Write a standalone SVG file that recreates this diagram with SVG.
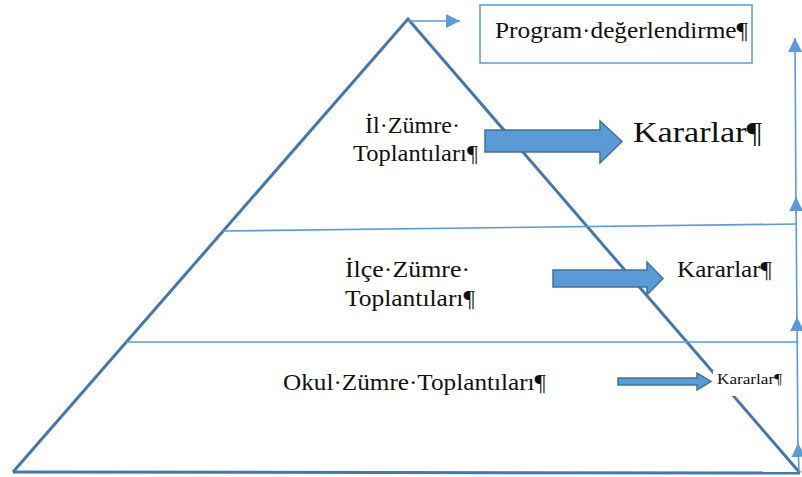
<svg xmlns="http://www.w3.org/2000/svg" width="802" height="477" viewBox="0 0 802 477">
<defs>
<style>
.t{font-family:"Liberation Serif","Times New Roman",serif;fill:#111}
.edge{stroke:#4477AA;stroke-width:3;fill:none}
.hl{stroke:#5B9BD5;stroke-width:1.6;fill:none}
.up{stroke:#5B9BD5;stroke-width:1.6;fill:none;marker-end:url(#ah)}
.blk{fill:#5B9BD5;stroke:#41719C;stroke-width:1.5}
</style>
<marker id="ah" markerWidth="14" markerHeight="15" refX="14" refY="7" orient="auto" markerUnits="userSpaceOnUse">
<path d="M0,0 L14,7 L0,14 Z" fill="#5B9BD5"/>
</marker>
</defs>
<rect width="802" height="477" fill="#fff"/>
<g id="pyramid">
<polyline class="edge" points="13,472 408,19 800,473"/>
<line class="edge" x1="13" y1="472" x2="800" y2="473"/>
<line class="hl" x1="223" y1="231" x2="797" y2="224"/>
<line class="hl" x1="126" y1="342" x2="798" y2="342"/>
</g>
<g id="connectors">
<line class="up" x1="408" y1="21" x2="460" y2="21"/>
<line class="up" x1="799" y1="472" x2="798" y2="443"/>
<line class="up" x1="798" y1="457" x2="797" y2="317"/>
<line class="up" x1="797" y1="331" x2="796" y2="197"/>
<line class="up" x1="796" y1="211" x2="795" y2="38"/>
<path class="blk" d="M485,130 L600,130 L600,121 L622,141.5 L600,163 L600,152 L485,152 Z"/>
<path class="blk" d="M553,270 L647,270 L647,262 L663,278.5 L647,295 L647,287 L553,287 Z"/>
<path class="blk" d="M618,378 L697,378 L697,373 L711,381.5 L697,390 L697,385 L618,385 Z"/>
</g>
<g id="program">
<rect x="480" y="5" width="272" height="58" fill="#fff" stroke="#5B9BD5" stroke-width="1.5"/>
<text class="t" x="495" y="38" font-size="24" textLength="253" lengthAdjust="spacingAndGlyphs">Program·değerlendirme¶</text>
</g>
<g id="il">
<text class="t" x="365" y="133" font-size="23" textLength="95" lengthAdjust="spacingAndGlyphs">İl·Zümre·</text>
<text class="t" x="353" y="161" font-size="23" textLength="125" lengthAdjust="spacingAndGlyphs">Toplantıları¶</text>
</g>
<g id="il-kararlar">
<text class="t" x="633" y="142" font-size="30" textLength="129" lengthAdjust="spacingAndGlyphs">Kararlar¶</text>
</g>
<g id="ilce">
<text class="t" x="345" y="277" font-size="23" textLength="125" lengthAdjust="spacingAndGlyphs">İlçe·Zümre·</text>
<text class="t" x="345" y="306" font-size="23" textLength="130" lengthAdjust="spacingAndGlyphs">Toplantıları¶</text>
</g>
<g id="ilce-kararlar">
<text class="t" x="677" y="277" font-size="23" textLength="95" lengthAdjust="spacingAndGlyphs">Kararlar¶</text>
</g>
<g id="okul">
<text class="t" x="283" y="390" font-size="24" textLength="263" lengthAdjust="spacingAndGlyphs">Okul·Zümre·Toplantıları¶</text>
</g>
<g id="okul-kararlar">
<rect x="713" y="371" width="70" height="25" fill="#fff"/>
<text class="t" x="717" y="384" font-size="14" textLength="65" lengthAdjust="spacingAndGlyphs">Kararlar¶</text>
</g>
</svg>
